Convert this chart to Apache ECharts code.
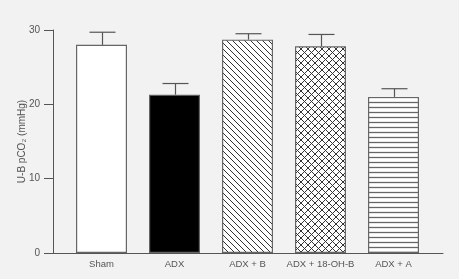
<!DOCTYPE html>
<html>
<head>
<meta charset="utf-8">
<script src="https://cdn.jsdelivr.net/npm/echarts@6/dist/echarts.min.js"></script>
<style>
html, body { margin: 0; padding: 0; background: #f2f2f2; }
#main { width: 459px; height: 279px; }
</style>
</head>
<body>
<div id="main"></div>
<script>
// data
const groups = ['Sham', 'ADX', 'ADX + B', 'ADX + 18-OH-B', 'ADX + A'];
const means = [28.0, 21.3, 28.7, 27.8, 21.0];
const errTops = [29.7, 22.8, 29.5, 29.4, 22.1];
const yTicks = [0, 10, 20, 30];

// hatch patterns
function makePattern(kind) {
    const s = kind === 'cross' ? 7 : (kind === 'horiz' ? 5 : 6);
    const c = document.createElement('canvas');
    c.width = s; c.height = s;
    const g = c.getContext('2d');
    g.fillStyle = '#ffffff';
    g.fillRect(0, 0, s, s);
    g.strokeStyle = kind === 'horiz' ? '#666666' : '#333333';
    g.lineWidth = kind === 'horiz' ? 1.3 : 1;
    g.beginPath();
    if (kind === 'diag' || kind === 'cross') {
        g.moveTo(-1, -1); g.lineTo(s + 1, s + 1);
        g.moveTo(-1, s - 1); g.lineTo(1, s + 1);
        g.moveTo(s - 1, -1); g.lineTo(s + 1, 1);
    }
    if (kind === 'cross') {
        g.moveTo(s + 1, -1); g.lineTo(-1, s + 1);
        g.moveTo(1, -1); g.lineTo(-1, 1);
        g.moveTo(s + 1, s - 1); g.lineTo(s - 1, s + 1);
    }
    if (kind === 'horiz') {
        g.moveTo(0, 2.5); g.lineTo(s, 2.5);
    }
    g.stroke();
    return { image: c, repeat: 'repeat' };
}

const fills = ['#ffffff', '#000000', makePattern('diag'), makePattern('cross'), makePattern('horiz')];

const chart = echarts.init(document.getElementById('main'));
const textColor = '#555555';
const lineColor = '#555555';
const font = 'Liberation Sans, Arial, sans-serif';

chart.setOption({
    backgroundColor: '#f2f2f2',
    animation: false,
    grid: [
        { left: 53, right: 16, top: 30, bottom: 26 },
        { left: 65, width: 365, top: 30, bottom: 26 }
    ],
    xAxis: [
        {
            gridIndex: 0, type: 'value', min: 0, max: 1,
            axisLine: { show: true, lineStyle: { color: lineColor, width: 1 } },
            axisTick: { show: false }, axisLabel: { show: false }, splitLine: { show: false }
        },
        {
            gridIndex: 1, type: 'category', data: groups,
            axisLine: { show: false }, axisTick: { show: false },
            axisLabel: { color: textColor, fontSize: 9.5, margin: 6, fontFamily: font, interval: 0 }
        }
    ],
    yAxis: [
        {
            gridIndex: 0, type: 'value', min: 0, max: 30, interval: 10,
            name: 'U-B pCO\u2082 (mmHg)', nameLocation: 'middle', nameGap: 26,
            nameMoveOverlap: false,
            nameTextStyle: { color: textColor, fontSize: 10, fontFamily: font },
            axisLine: { show: true, lineStyle: { color: lineColor, width: 1 } },
            axisTick: { show: true, length: 9, lineStyle: { color: lineColor } },
            axisLabel: { color: textColor, fontSize: 10, margin: 13, fontFamily: font,
                formatter: v => yTicks.includes(v) ? String(v) : '' },
            splitLine: { show: false }
        },
        { gridIndex: 1, type: 'value', min: 0, max: 30, show: false }
    ],
    series: [
        {
            type: 'bar', xAxisIndex: 1, yAxisIndex: 1,
            barWidth: 51,
            data: means.map((v, i) => ({
                value: v,
                itemStyle: { color: fills[i], borderColor: '#666666', borderWidth: 1.2 }
            }))
        },
        {
            type: 'custom', xAxisIndex: 1, yAxisIndex: 1,
            data: groups.map((g, i) => [i, means[i], errTops[i]]),
            renderItem: function (params, api) {
                const base = api.coord([api.value(0), api.value(1)]);
                const top = api.coord([api.value(0), api.value(2)]);
                const x = Math.round(base[0]) + 0.5;
                const st = { stroke: '#555555', lineWidth: 1.2 };
                return {
                    type: 'group',
                    children: [
                        { type: 'line', shape: { x1: x, y1: base[1], x2: x, y2: top[1] }, style: st },
                        { type: 'line', shape: { x1: x - 13, y1: top[1], x2: x + 13, y2: top[1] }, style: st }
                    ]
                };
            },
            z: 3
        }
    ]
});
</script>
</body>
</html>
